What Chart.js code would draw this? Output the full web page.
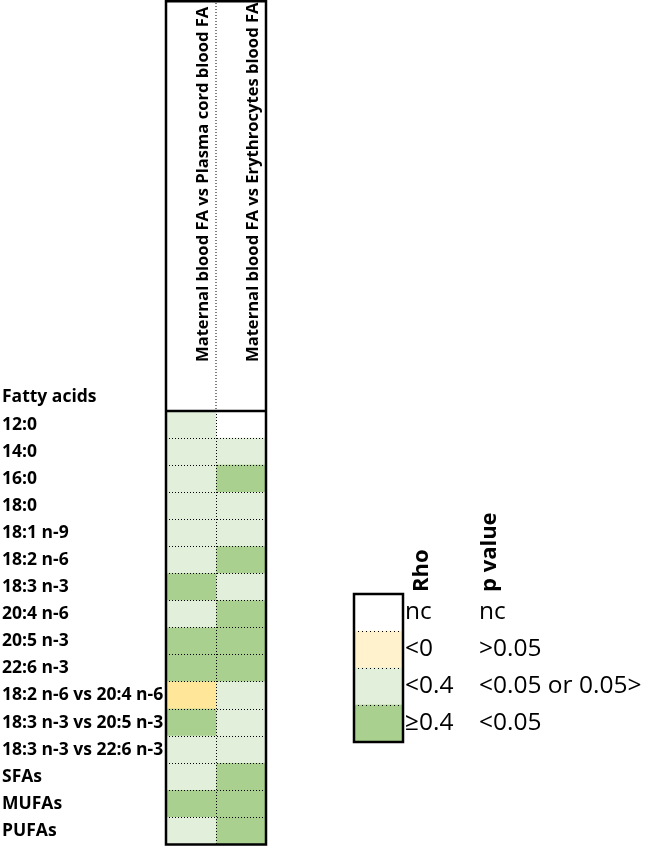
<!DOCTYPE html>
<html><head><meta charset="utf-8">
<script src="https://cdn.jsdelivr.net/npm/chart.js@4.4.1/dist/chart.umd.min.js"></script>
<style>
html,body{margin:0;padding:0;background:#fff;}
#main{position:absolute;left:0;top:0;}
#legend{position:absolute;left:340px;top:490px;}
</style></head><body>
<canvas id="main" width="646" height="855"></canvas>
<canvas id="legend" width="306" height="270"></canvas>
<script>
// ---- data ----
const rowHeader = 'Fatty acids';
const rowLabels = ['12:0','14:0','16:0','18:0','18:1 n-9','18:2 n-6','18:3 n-3','20:4 n-6','20:5 n-3','22:6 n-3',
  '18:2 n-6 vs 20:4 n-6','18:3 n-3 vs 20:5 n-3','18:3 n-3 vs 22:6 n-3','SFAs','MUFAs','PUFAs'];
const columnLabels = ['Maternal blood FA vs Plasma cord blood FA','Maternal blood FA vs Erythrocytes blood FA'];
// category codes: nc = not calculated, neg = rho<0 (p>0.05), low = rho<0.4, high = rho>=0.4
const plasmaCord   = ['low','low','low','low','low','low','high','low','high','high','neg','high','low','low','high','low'];
const erythrocytes = ['nc','low','high','low','low','high','low','high','high','high','low','low','low','high','high','high'];
const legendTitles = ['Rho','p value'];
const legendCodes = ['nc','neg','low','high'];
const legendRho = ['nc','<0','<0.4','≥0.4'];
const legendP = ['nc','>0.05','<0.05 or 0.05>','<0.05'];
const cellColors = {nc:'#ffffff', neg:'#ffe699', low:'#e2efda', high:'#a9d08e'};
const legendColors = {nc:'#ffffff', neg:'#fff2cc', low:'#e2efda', high:'#a9d08e'};

const FONT = '"Open Sans", "Noto Sans", sans-serif';

const framePlugin = {
  id: 'frame',
  afterDraw(chart) {
    const {ctx, chartArea: ca, scales} = chart;
    const x = scales.x, y = scales.y;
    const left = x.getPixelForValue(0), right = x.getPixelForValue(2), mid = x.getPixelForValue(1);
    ctx.save();
    ctx.strokeStyle = '#000';
    ctx.lineWidth = 1;
    ctx.setLineDash([1, 2]);
    ctx.beginPath(); ctx.moveTo(mid, 0); ctx.lineTo(mid, ca.top); ctx.stroke();
    ctx.setLineDash([]);
    ctx.lineWidth = 2.5;
    ctx.strokeRect(left, 1.25, right - left, ca.bottom - 1.25);
    ctx.beginPath(); ctx.moveTo(left, ca.top); ctx.lineTo(right, ca.top); ctx.stroke();
    const rowH = y.getPixelForValue(1) - y.getPixelForValue(0);
    ctx.fillStyle = '#000';
    ctx.font = 'bold 17.5px ' + FONT;
    ctx.textAlign = 'left';
    ctx.textBaseline = 'middle';
    ctx.fillText(rowHeader, chart.options.layout.padding.left, ca.top - rowH / 2);
    ctx.restore();
  }
};

new Chart(document.getElementById('main'), {
  type: 'bar',
  data: {
    labels: rowLabels,
    datasets: [
      {label: columnLabels[0], data: plasmaCord.map(() => 1), backgroundColor: plasmaCord.map(c => cellColors[c])},
      {label: columnLabels[1], data: erythrocytes.map(() => 1), backgroundColor: erythrocytes.map(c => cellColors[c])}
    ]
  },
  options: {
    indexAxis: 'y', responsive: false, animation: false,
    layout: {padding: {left: 2, right: 380, top: 0, bottom: 3}},
    plugins: {legend: {display: false}, tooltip: {enabled: false}},
    datasets: {bar: {barPercentage: 1, categoryPercentage: 1, borderWidth: 0}},
    scales: {
      x: {type: 'linear', stacked: true, min: 0, max: 2, position: 'bottom',
          ticks: {display: false, stepSize: 1},
          grid: {color: '#000', lineWidth: 1, drawTicks: false, z: 1},
          border: {display: false, dash: [1, 2]},
          afterFit(s) { s.height = 0; }},
      xTop: {type: 'category', labels: columnLabels.map(l => [l, '']), position: 'top', offset: true,
          grid: {display: false}, border: {display: false},
          ticks: {minRotation: 90, maxRotation: 90, autoSkip: false, mirror: true, padding: -49, color: '#000',
                  font: {family: FONT, weight: 'bold', size: 16.6, lineHeight: '12px'}},
          afterFit(s) { s.height = 411; }},
      y: {type: 'category', stacked: true, position: 'left', offset: true,
          grid: {offset: true, color: '#000', lineWidth: 1, drawTicks: false, z: 1},
          border: {display: false, dash: [1, 2]},
          ticks: {crossAlign: 'far', padding: 0, autoSkip: false, color: '#000',
                  font: {family: FONT, weight: 'bold', size: 17.5}},
          afterFit(s) { s.width = 164; }}
    }
  },
  plugins: [framePlugin]
});

const legendPlugin = {
  id: 'legendFrame',
  afterDraw(chart) {
    const {ctx, chartArea: ca, scales} = chart;
    ctx.save();
    ctx.strokeStyle = '#000';
    ctx.lineWidth = 2.5;
    ctx.strokeRect(ca.left, ca.top, ca.right - ca.left, ca.bottom - ca.top);
    ctx.fillStyle = '#000';
    ctx.font = 'bold 22px ' + FONT;
    ctx.textAlign = 'left';
    ctx.textBaseline = 'middle';
    [scales.y, scales.yP].forEach((s, i) => {
      ctx.save();
      ctx.translate(s.left + 19, ca.top - 2);
      ctx.rotate(-Math.PI / 2);
      ctx.fillText(legendTitles[i], 0, 0);
      ctx.restore();
    });
    ctx.restore();
  }
};

new Chart(document.getElementById('legend'), {
  type: 'bar',
  data: {
    labels: legendRho,
    datasets: [{data: legendCodes.map(() => 1), backgroundColor: legendCodes.map(c => legendColors[c]),
                barPercentage: 1, categoryPercentage: 1, borderWidth: 0}]
  },
  options: {
    indexAxis: 'y', responsive: false, animation: false,
    layout: {padding: {left: 14, top: 104, bottom: 18, right: 0}},
    plugins: {legend: {display: false}, tooltip: {enabled: false}},
    scales: {
      x: {type: 'linear', min: 0, max: 1, display: false},
      y: {type: 'category', position: 'right', offset: true, weight: 0,
          grid: {offset: true, color: '#000', lineWidth: 1, drawTicks: false, z: 1},
          border: {display: false, dash: [1, 3]},
          ticks: {padding: 2, color: '#000', font: {family: FONT, size: 24.5}},
          afterFit(s) { s.width = 68; }},
      yP: {type: 'category', labels: legendP, position: 'right', offset: true, weight: 1,
          grid: {display: false}, border: {display: false},
          ticks: {padding: 0, color: '#000', font: {family: FONT, size: 24.5}},
          afterFit(s) { s.width = 175; }}
    }
  },
  plugins: [legendPlugin]
});
</script>
</body></html>
